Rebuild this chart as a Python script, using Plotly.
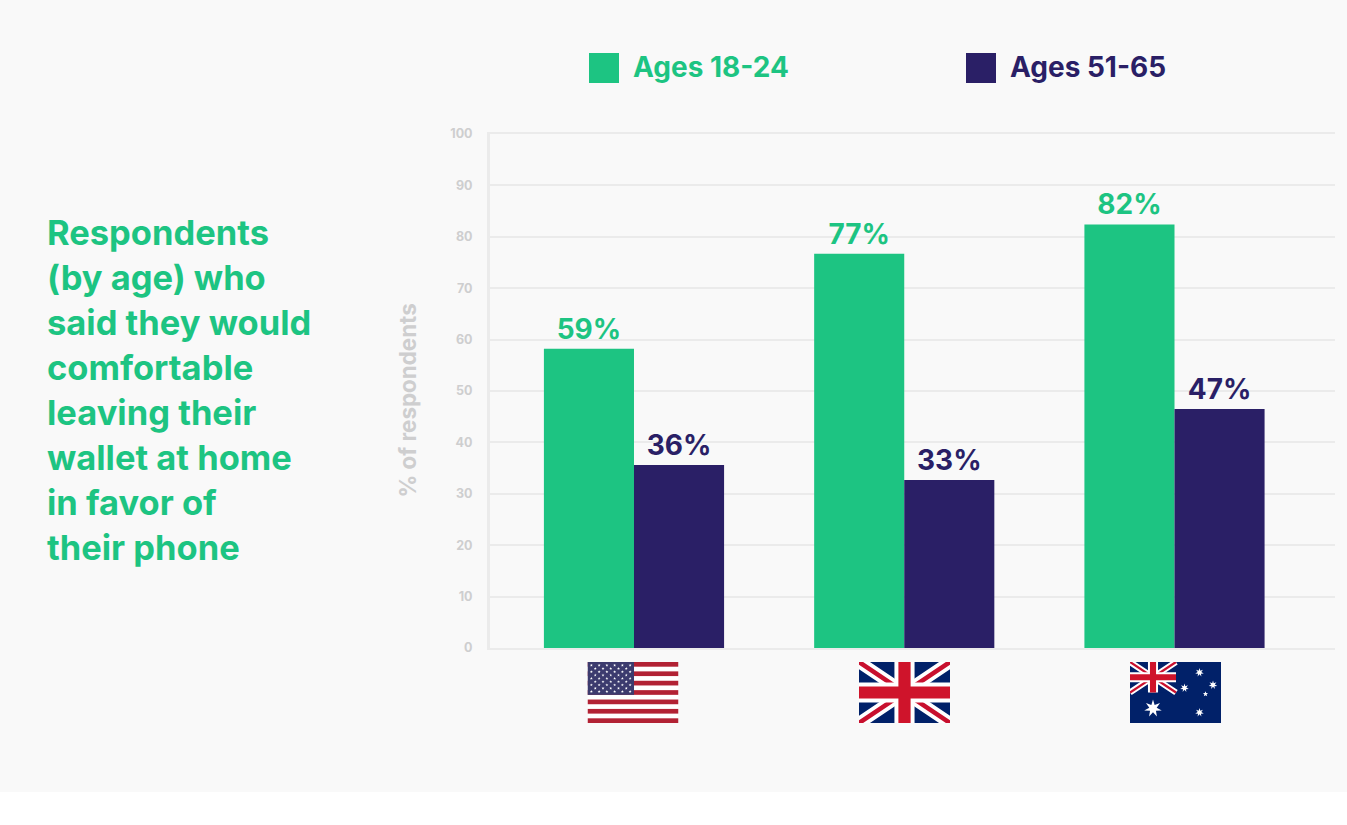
import base64, math
import plotly.graph_objects as go

countries = ["United States", "United Kingdom", "Australia"]
series_a_name = "Ages 18-24"
series_b_name = "Ages 51-65"
series_a = [58.2, 76.7, 82.4]
series_b = [35.6, 32.7, 46.5]
labels_a = ["59%", "77%", "82%"]
labels_b = ["36%", "33%", "47%"]
tick_values = list(range(0, 101, 10))
y_title = "% of respondents"
side_lines = ["Respondents", "(by age) who", "said they would", "comfortable",
              "leaving their", "wallet at home", "in favor of", "their phone"]

GREEN = "#1DC482"
NAVY = "#2A1F66"
BG = "#F9F9F9"
GRID = "#EBEBEB"
TICK = "#CECECF"
FONT = "Inter"
W, H = 1347, 825
L, R, T, B = 490, 1335, 134, 648


def px(x):
    return (x - L) / (R - L)


def py(y):
    return (B - y) / (B - T)


def star_points(cx, cy, r, n=5, inner=0.4):
    pts = []
    for i in range(2 * n):
        a = -math.pi / 2 + i * math.pi / n
        rr = r if i % 2 == 0 else r * inner
        pts.append(f"{cx + rr * math.cos(a):.2f},{cy + rr * math.sin(a):.2f}")
    return " ".join(pts)


def uri(svg):
    return "data:image/svg+xml;base64," + base64.b64encode(svg.encode()).decode()


def us_flag():
    w, h = 90, 61
    s = h / 13
    p = [f'<svg xmlns="http://www.w3.org/2000/svg" width="{w*4}" height="{h*4}" viewBox="0 0 {w} {h}">',
         f'<rect width="{w}" height="{h}" fill="#fff"/>']
    for i in range(0, 13, 2):
        p.append(f'<rect y="{i*s:.2f}" width="{w}" height="{s:.2f}" fill="#B22234"/>')
    cw, ch = 46, 7 * s
    p.append(f'<rect width="{cw}" height="{ch:.2f}" fill="#3C3B6E"/>')
    for row in range(9):
        cols = 6 if row % 2 == 0 else 5
        for c in range(cols):
            x = cw / 12 * (2 * c + (1 if row % 2 == 0 else 2))
            y = ch / 10 * (row + 1)
            p.append(f'<polygon fill="#fff" points="{star_points(x, y, 1.55)}"/>')
    p.append("</svg>")
    return "".join(p)


def union(w, h):
    return (f'<rect width="{w}" height="{h}" fill="#012169"/>'
            f'<path d="M0,0L{w},{h}M{w},0L0,{h}" stroke="#fff" stroke-width="{h*0.2}"/>'
            f'<path d="M0,0L{w},{h}M{w},0L0,{h}" stroke="#C8102E" stroke-width="{h*0.075}"/>'
            f'<path d="M{w/2},0V{h}M0,{h/2}H{w}" stroke="#fff" stroke-width="{h*0.33}"/>'
            f'<path d="M{w/2},0V{h}M0,{h/2}H{w}" stroke="#CF142B" stroke-width="{h*0.2}"/>')


def uk_flag():
    return (f'<svg xmlns="http://www.w3.org/2000/svg" width="364" height="244" viewBox="0 0 91 61">'
            f'{union(91, 61)}</svg>')


def au_flag():
    p = ['<svg xmlns="http://www.w3.org/2000/svg" width="364" height="244" viewBox="0 0 91 61">',
         '<rect width="91" height="61" fill="#012169"/>', union(46, 30.5)]
    for x, y, r, n in [(23, 46.5, 9, 7), (69.5, 10.5, 4.4, 7), (83, 23, 4.4, 7),
                       (54.5, 26, 4.4, 7), (69.5, 50.5, 4.4, 7), (75.5, 32, 2.8, 5)]:
        p.append(f'<polygon fill="#fff" points="{star_points(x, y, r, n, 0.42)}"/>')
    p.append("</svg>")
    return "".join(p)


fig = go.Figure()
for name, vals, txt, col in [(series_a_name, series_a, labels_a, GREEN),
                             (series_b_name, series_b, labels_b, NAVY)]:
    fig.add_bar(x=countries, y=vals, name=name, marker=dict(color=col, line_width=0),
                text=txt, textposition="outside", cliponaxis=False,
                textfont=dict(family=FONT, size=28, color=col, weight=700),
                constraintext="none", showlegend=False)

shapes = [dict(type="rect", layer="below", xref="paper", yref="paper",
               x0=px(-5), x1=px(W + 5), y0=py(792), y1=py(-5), fillcolor=BG, line_width=0)]
annotations = []
for x0, col, name in [(589, GREEN, series_a_name), (966, NAVY, series_b_name)]:
    shapes.append(dict(type="rect", xref="paper", yref="paper", x0=px(x0), x1=px(x0 + 30),
                       y0=py(83), y1=py(53), fillcolor=col, line_width=0))
    annotations.append(dict(text=name, xref="paper", yref="paper", x=px(x0 + 42), y=py(67),
                            xanchor="left", yanchor="middle", showarrow=False,
                            font=dict(family=FONT, size=28, color=col, weight=700)))
for i, line in enumerate(side_lines):
    annotations.append(dict(text=line, xref="paper", yref="paper", x=px(44.5), y=py(232.5 + 45 * i),
                            xanchor="left", yanchor="middle", showarrow=False,
                            font=dict(family=FONT, size=34.5, color=GREEN, weight=700)))
annotations.append(dict(text=y_title, xref="paper", yref="paper", x=px(407.5), y=py(401), textangle=-90,
                        xanchor="center", yanchor="middle", showarrow=False,
                        font=dict(family=FONT, size=22.4, color=TICK, weight=700)))

images = [dict(source=uri(svg), xref="paper", yref="paper", x=px(c), y=py(662),
               sizex=91 / (R - L), sizey=61 / (B - T),
               xanchor="center", yanchor="top", sizing="stretch", layer="above")
          for c, svg in zip([633, 904.5, 1175.5], [us_flag(), uk_flag(), au_flag()])]

fig.update_layout(
    width=W, height=H, paper_bgcolor="#FFFFFF", plot_bgcolor=BG,
    margin=dict(l=L, r=W - R, t=T, b=H - B, pad=0),
    barmode="group", bargap=1 / 3, bargroupgap=0,
    shapes=shapes, annotations=annotations, images=images,
    xaxis=dict(range=[-0.5328, 2.5939], showticklabels=False, showgrid=False, zeroline=False,
               showline=True, mirror=True, linecolor=GRID, linewidth=2,
               ticks="", fixedrange=True),
    yaxis=dict(range=[0, 100], tickvals=tick_values, showgrid=True, gridcolor=GRID, gridwidth=2,
               zeroline=False,
               showline=True, linecolor=GRID, linewidth=3, ticks="", ticklabelstandoff=12,
               tickfont=dict(family=FONT, size=12.5, color=TICK, weight=700), fixedrange=True),
    font=dict(family=FONT),
)

fig.write_html("out.html", config={"displayModeBar": False},
               post_script="document.body.style.margin='0';")
